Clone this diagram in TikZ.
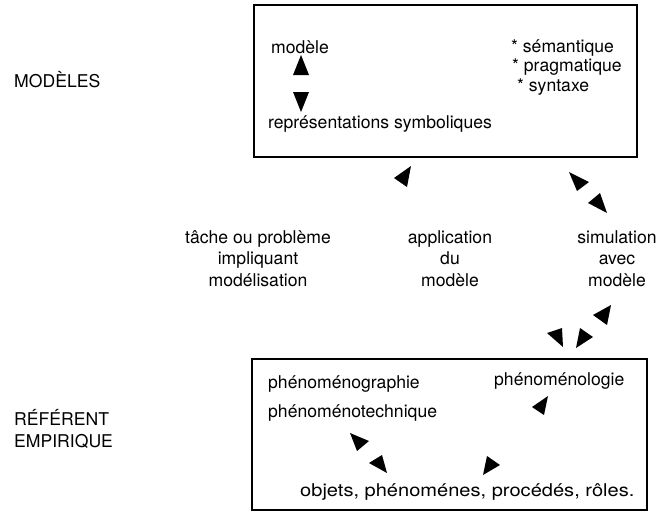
\documentclass[tikz,border=0pt]{standalone}
\usepackage{fontspec}
\setmainfont{TeX Gyre Heros}
\usepackage{graphicx}
\begin{document}
\begin{tikzpicture}[x=1pt,y=-1pt,
  txt/.style={inner sep=0pt, font=\fontsize{17.6}{21.5}\selectfont},
  lt/.style={txt, anchor=base west},
  ml/.style={txt, align=center, anchor=base},
  box/.style={draw, line width=2.8pt, inner sep=0pt},
  tri/.style={fill=black}]
\useasboundingbox (0,0) rectangle (659,512);
% boxes
\node[box, minimum width=383pt, minimum height=152pt] (topbox) at (445.5,81) {};
\node[box, minimum width=395pt, minimum height=151pt] (botbox) at (449.5,434.5) {};
% side labels
\node[lt] (modeles) at (14,87) {MODÈLES};
\node[txt, align=left, anchor=base west] (ref) at (14,447) {RÉFÉRENT\\EMPIRIQUE};
% top box content
\node[lt] (modele) at (271,53) {modèle};
\node[lt] (repr) at (268,128) {représentations symboliques};
\node[lt] (sem) at (511,52) {* sémantique};
\node[lt] (prag) at (512,71) {* pragmatique};
\node[lt] (synt) at (517,91) {* syntaxe};
% middle labels (anchor base = baseline of the last line)
\node[ml] (tache) at (258,286) {tâche ou problème\\impliquant\\modélisation};
\node[ml] (appl) at (450,286) {application\\du\\modèle};
\node[ml] (simu) at (617,286) {simulation\\avec\\modèle};
% bottom box content
\node[lt] (graph) at (268,388) {phénoménographie};
\node[lt] (tech) at (268,417) {phénoménotechnique};
\node[lt] (logie) at (494,385) {phénoménologie};
\node[lt] (obj) at (300,496) {\scalebox{1.14}[1]{objets, phénoménes, procédés, rôles.}};
% arrowheads
\fill[tri] (301,55) -- (293,75) -- (309,75) -- cycle;
\fill[tri] (293,92) -- (309,92) -- (301,112) -- cycle;
\fill[tri] (394,178) -- (411,166) -- (407,187) -- cycle;
\fill[tri] (569,172) -- (589,182) -- (577,191) -- cycle;
\fill[tri] (600,193) -- (588,203) -- (607,213) -- cycle;
\fill[tri] (593,315) -- (611,305) -- (607,325) -- cycle;
\fill[tri] (547,333) -- (562,328) -- (563,347) -- cycle;
\fill[tri] (580,328) -- (593,337) -- (576,348) -- cycle;
\fill[tri] (532,407) -- (548,396) -- (544,415) -- cycle;
\fill[tri] (350,433) -- (369,441) -- (357,451) -- cycle;
\fill[tri] (369,463) -- (382,455) -- (387,473) -- cycle;
\fill[tri] (483,475) -- (487,456) -- (500,465) -- cycle;
\end{tikzpicture}
\end{document}
